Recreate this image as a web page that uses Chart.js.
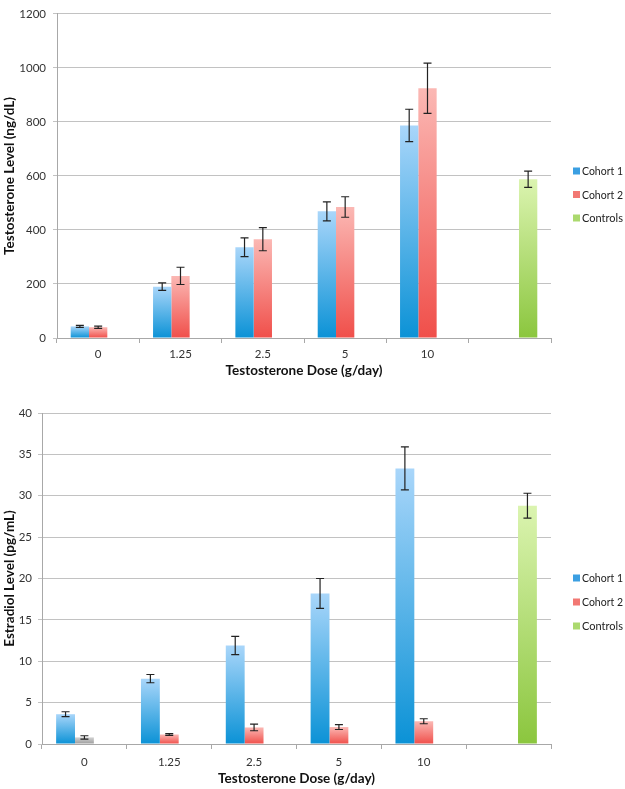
<!DOCTYPE html>
<html>
<head>
<meta charset="utf-8">
<script src="https://cdn.jsdelivr.net/npm/chart.js@4.4.1/dist/chart.umd.min.js"></script>
<style>
body { margin: 0; background: #fff; }
.box { position: absolute; left: 0; width: 625px; }
#box-t { top: 0; height: 380px; }
#box-e { top: 385px; height: 404px; }
</style>
</head>
<body>
<div class="box" id="box-t"><canvas id="chartT"></canvas></div>
<div class="box" id="box-e"><canvas id="chartE"></canvas></div>
<script>
// categories
var doses = ['0', '1.25', '2.5', '5', '10', ''];

// testosterone (ng/dL)
var testoCohort1 = [43, 190, 336, 469, 787, null];
var testoCohort1Err = [4, 14, 35, 35, 60, null];
var testoCohort2 = [40, 230, 366, 485, 925, null];
var testoCohort2Err = [4, 32, 43, 38, 93, null];
var testoControls = [null, null, null, null, null, 588];
var testoControlsErr = [null, null, null, null, null, 30];
var testoTicks = [0, 200, 400, 600, 800, 1000, 1200];

// estradiol (pg/mL)
var estraCohort1 = [3.6, 7.9, 11.9, 18.2, 33.3, null];
var estraCohort1Err = [0.3, 0.5, 1.1, 1.8, 2.6, null];
var estraCohort2 = [0.8, 1.15, 2.0, 2.05, 2.75, null];
var estraCohort2Err = [0.2, 0.1, 0.4, 0.3, 0.3, null];
var estraControls = [null, null, null, null, null, 28.8];
var estraControlsErr = [null, null, null, null, null, 1.5];
var estraTicks = [0, 5, 10, 15, 20, 25, 30, 35, 40];

Chart.defaults.font.family = 'Lato, "Open Sans", sans-serif';
Chart.defaults.font.size = 11.5;
Chart.defaults.color = '#333';

function barFill(light, dark) {
    return function (ctx) {
        var chart = ctx.chart;
        if (!chart.chartArea || ctx.raw == null) return dark;
        var y = chart.scales.y;
        var g = chart.ctx.createLinearGradient(0, y.getPixelForValue(ctx.raw), 0, y.getPixelForValue(0));
        g.addColorStop(0, light);
        g.addColorStop(1, dark);
        return g;
    };
}
var blueFill = barFill('#a9d6fa', '#0b92d6');
var redFill = barFill('#fbb8b4', '#f04f4a');
var greenFill = barFill('#dbf4b0', '#8bc63e');
var greyFill = barFill('#d2d2d2', '#9c9c9c');

// error bars drawn from each dataset's "errors" array
var errorBars = {
    id: 'errorBars',
    afterDatasetsDraw: function (chart) {
        var c = chart.ctx;
        var y = chart.scales.y;
        c.save();
        c.strokeStyle = '#222';
        c.lineWidth = 1.2;
        chart.data.datasets.forEach(function (ds, i) {
            var meta = chart.getDatasetMeta(i);
            meta.data.forEach(function (bar, j) {
                var v = ds.data[j], e = ds.errors[j];
                if (v == null || e == null) return;
                var top = y.getPixelForValue(v + e);
                var bot = y.getPixelForValue(v - e);
                c.beginPath();
                c.moveTo(bar.x, top); c.lineTo(bar.x, bot);
                c.moveTo(bar.x - 4, top); c.lineTo(bar.x + 4, top);
                c.moveTo(bar.x - 4, bot); c.lineTo(bar.x + 4, bot);
                c.stroke();
            });
        });
        c.restore();
    }
};

// legend at the right side
var sideLegend = {
    id: 'sideLegend',
    afterDraw: function (chart, args, opts) {
        var c = chart.ctx;
        c.save();
        c.font = '12px Lato, "Open Sans", sans-serif';
        c.textBaseline = 'middle';
        chart.data.datasets.forEach(function (ds, i) {
            var yy = opts.y + i * opts.gap;
            c.fillStyle = ds.legendColor;
            c.fillRect(opts.x, yy - 3.5, 7, 7);
            c.fillStyle = '#222';
            c.fillText(ds.label, opts.x + 9, yy + 0.5, 41);
        });
        c.restore();
    }
};

function makeChart(id, cfg) {
    return new Chart(document.getElementById(id).getContext('2d'), {
        type: 'bar',
        data: {
            labels: doses,
            datasets: [{
                label: 'Cohort 1',
                data: cfg.c1,
                errors: cfg.c1Err,
                backgroundColor: blueFill,
                legendColor: '#3b9fe2'
            }, {
                label: 'Cohort 2',
                data: cfg.c2,
                errors: cfg.c2Err,
                backgroundColor: cfg.c2Fill,
                legendColor: '#f27873'
            }, {
                label: 'Controls',
                data: cfg.ctrl,
                errors: cfg.ctrlErr,
                backgroundColor: greenFill,
                legendColor: '#abd96e'
            }]
        },
        options: {
            responsive: true,
            maintainAspectRatio: false,
            animation: false,
            categoryPercentage: 0.667,
            barPercentage: 1.0,
            layout: { padding: { top: cfg.padTop, right: 74, left: 0, bottom: 0 } },
            plugins: {
                legend: { display: false },
                tooltip: { enabled: false },
                sideLegend: cfg.legend
            },
            scales: {
                x: {
                    afterFit: function (s) { s.height = cfg.xHeight; },
                    grid: { offset: true, drawOnChartArea: false, drawTicks: true, tickLength: 5, color: '#a8a8a8' },
                    border: { color: '#a8a8a8' },
                    ticks: { padding: cfg.xTickPad, color: '#333' },
                    title: {
                        display: true,
                        text: 'Testosterone Dose (g/day)',
                        color: '#111',
                        font: { size: 13.5, weight: 'bold' },
                        padding: { top: 0, bottom: cfg.xTitlePad }
                    }
                },
                y: {
                    min: 0,
                    max: cfg.ticks[cfg.ticks.length - 1],
                    afterFit: function (s) { s.width = cfg.yWidth; },
                    afterBuildTicks: function (s) {
                        s.ticks = cfg.ticks.map(function (v) { return { value: v }; });
                    },
                    grid: { color: '#c2c2c2', tickLength: 4 },
                    border: { color: '#a8a8a8' },
                    ticks: {
                        padding: cfg.yTickPad,
                        color: '#333',
                        callback: function (v) { return String(v); }
                    },
                    title: {
                        display: true,
                        text: cfg.yTitle,
                        color: '#111',
                        font: { size: 13.5, weight: 'bold' },
                        padding: { top: 2, bottom: 0 }
                    }
                }
            }
        },
        plugins: [errorBars, sideLegend]
    });
}

makeChart('chartT', {
    c1: testoCohort1, c1Err: testoCohort1Err,
    c2: testoCohort2, c2Err: testoCohort2Err, c2Fill: redFill,
    ctrl: testoControls, ctrlErr: testoControlsErr,
    ticks: testoTicks,
    yTitle: 'Testosterone Level (ng/dL)',
    padTop: 5, xHeight: 42, yWidth: 57,
    xTickPad: 4, xTitlePad: 1, yTickPad: 7,
    legend: { x: 573, y: 171, gap: 23.5 }
});

makeChart('chartE', {
    c1: estraCohort1, c1Err: estraCohort1Err,
    c2: estraCohort2, c2Err: estraCohort2Err,
    c2Fill: function (ctx) { return ctx.dataIndex === 0 ? greyFill(ctx) : redFill(ctx); },
    ctrl: estraControls, ctrlErr: estraControlsErr,
    ticks: estraTicks,
    yTitle: 'Estradiol Level (pg/mL)',
    padTop: 28, xHeight: 45, yWidth: 42,
    xTickPad: 6, xTitlePad: 2, yTickPad: 6,
    legend: { x: 573, y: 193, gap: 24 }
});
</script>
</body>
</html>
